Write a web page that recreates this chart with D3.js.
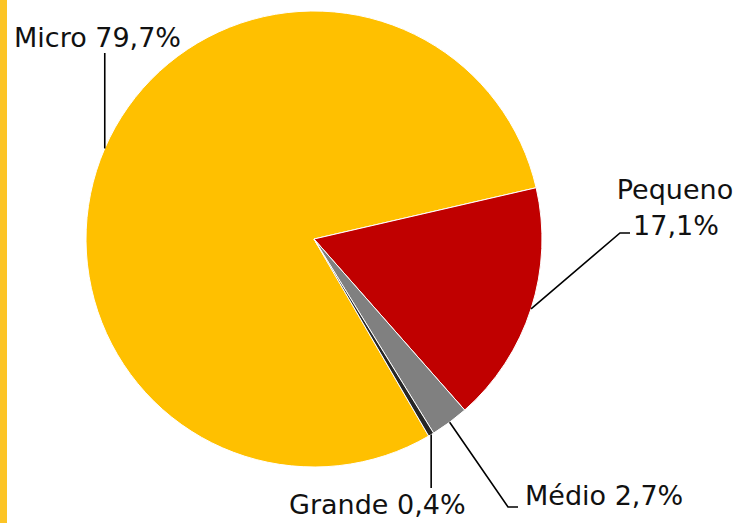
<!DOCTYPE html>
<html>
<head>
<meta charset="utf-8">
<script src="https://cdn.jsdelivr.net/npm/d3@7"></script>
<style>
  html, body { margin: 0; padding: 0; background: #fff; }
  svg text { font-family: "Century Gothic", "DejaVu Sans", sans-serif; fill: #111; }
</style>
</head>
<body>
<div id="chart"></div>
<script>
// chart data
var categories = ["Micro", "Pequeno", "Médio", "Grande"];
var values = [79.7, 17.1, 2.7, 0.4];
var colors = ["#FFC000", "#C00000", "#808080", "#262626"];

function init() {
    var w = 745;
    var h = 523;
    var cx = 314, cy = 239, r = 228;

    var svg = d3.select("#chart")
                .append("svg")
                .attr("width", w)
                .attr("height", h);

    // yellow strip on the left edge
    svg.append("rect")
       .attr("x", 0).attr("y", 0)
       .attr("width", 7).attr("height", h)
       .style("fill", "#FCC425");

    var g = svg.append("g")
               .attr("transform", "translate(" + cx + "," + cy + ")");

    // first slice rotated so Micro ends where Pequeno starts
    var rad = Math.PI / 180;
    var pie = d3.pie()
                .sort(null)
                .value(function(d) { return d.value; })
                .startAngle(-210.2 * rad)
                .endAngle(149.8 * rad);

    var arc = d3.arc().innerRadius(0).outerRadius(r);

    var data = categories.map(function(c, i) {
        return { name: c, value: values[i], color: colors[i] };
    });
    var arcs = pie(data);

    g.selectAll("path.slice")
     .data(arcs)
     .enter()
     .append("path")
     .attr("class", "slice")
     .attr("d", arc)
     .style("fill", function(d) { return d.data.color; })
     .style("stroke", "#fff")
     .style("stroke-width", 1);

    function fmt(v) { return String(v.toFixed(1)).replace(".", ",") + "%"; }

    // point on the rim at the middle of each slice
    function rim(d) {
        var a = (d.startAngle + d.endAngle) / 2;
        return [Math.sin(a) * r, -Math.cos(a) * r];
    }

    // label layout (relative to pie centre)
    var layout = {
        "Micro":   { lines: [[0, -186]], text: [{ x: -300, y: -192, anchor: "start", t: "full" }] },
        "Pequeno": { lines: [[306, -6], [316, -6]], text: [{ x: 361, y: -40, anchor: "middle", t: "name" }, { x: 362, y: -4, anchor: "middle", t: "value" }] },
        "Médio":   { lines: [[194, 268], [204, 268]], text: [{ x: 211, y: 266, anchor: "start", t: "full" }] },
        "Grande":  { lines: [[null, 249]], text: [{ x: -25, y: 275, anchor: "start", t: "full" }] }
    };

    arcs.forEach(function(d) {
        var L = layout[d.data.name];
        var p0 = rim(d);
        var pts = [p0];
        L.lines.forEach(function(p) {
            pts.push([p[0] === null || p[0] === 0 ? p0[0] : p[0], p[1]]);
        });
        g.append("path")
         .attr("d", d3.line()(pts))
         .style("fill", "none")
         .style("stroke", "#000")
         .style("stroke-width", 1.6);

        L.text.forEach(function(t) {
            var s = t.t === "name" ? d.data.name
                  : t.t === "value" ? fmt(d.data.value)
                  : d.data.name + " " + fmt(d.data.value);
            g.append("text")
             .attr("x", t.x)
             .attr("y", t.y)
             .attr("text-anchor", t.anchor)
             .style("font-size", "27px")
             .text(s);
        });
    });
}

window.onload = init;
</script>
</body>
</html>
